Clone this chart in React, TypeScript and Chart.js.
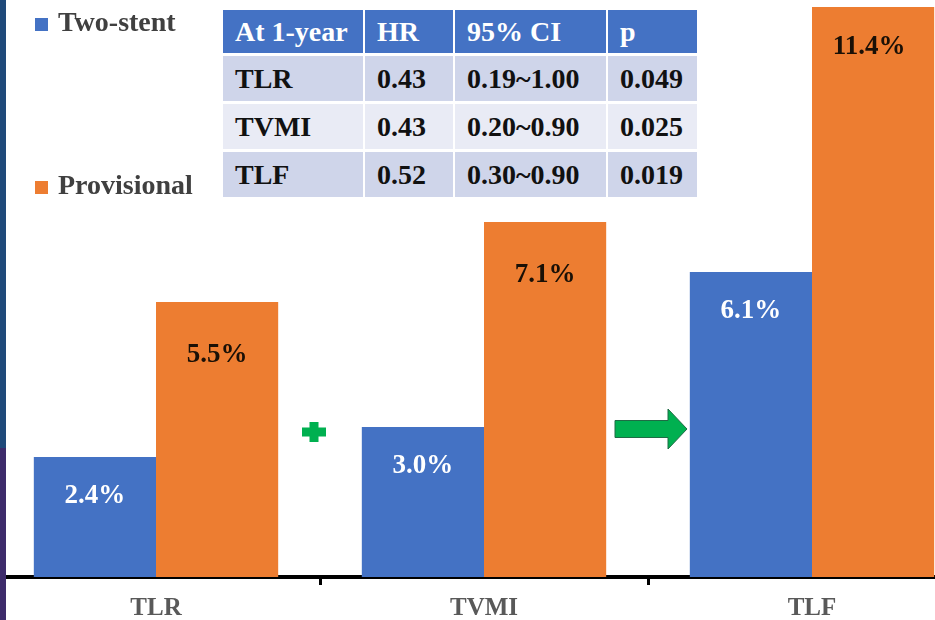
import React, { useEffect, useRef } from "react";
import { Chart, registerables } from "chart.js";
Chart.register(...registerables);

const categories = ["TLR", "TVMI", "TLF"];
const twoStent = [2.4, 3.0, 6.1];
const provisional = [5.5, 7.1, 11.4];
const seriesNames = ["Two-stent", "Provisional"];
const yMax = 11.5;

const tableHeader = ["At 1-year", "HR", "95% CI", "p"];
const tableEndpoints = ["TLR", "TVMI", "TLF"];
const tableHR = ["0.43", "0.43", "0.52"];
const tableCI = ["0.19~1.00", "0.20~0.90", "0.30~0.90"];
const tableP = ["0.049", "0.025", "0.019"];

const BLUE = "#4472c4";
const ORANGE = "#ed7d31";
const GREEN = "#00b050";
const SERIF = '"Liberation Serif", "Times New Roman", serif';
const SHIFT = 8; // canvas starts 8px left of the page

const valueLabels = {
  id: "valueLabels",
  afterDatasetsDraw(chart: any) {
    const ctx = chart.ctx;
    ctx.save();
    ctx.font = `bold 27px ${SERIF}`;
    ctx.textAlign = "center";
    ctx.textBaseline = "middle";
    chart.data.datasets.forEach((ds: any, di: number) => {
      const meta = chart.getDatasetMeta(di);
      meta.data.forEach((bar: any, i: number) => {
        const v = ds.data[i] as number;
        ctx.fillStyle = di === 0 ? "#ffffff" : "#1a1006";
        const off = di === 0 ? 39 : bar.y < 60 ? 40 : 53;
        const dx = di === 1 && bar.y < 60 ? -4 : 0;
        ctx.fillText(`${v.toFixed(1)}%`, bar.x + dx, bar.y + off);
      });
    });
    ctx.restore();
  },
};

const customLegend = {
  id: "customLegend",
  afterDraw(chart: any) {
    const ctx = chart.ctx;
    ctx.save();
    ctx.font = `bold 28px ${SERIF}`;
    ctx.textAlign = "left";
    ctx.textBaseline = "middle";
    const rows = [24, 187];
    chart.data.datasets.forEach((ds: any, di: number) => {
      const cy = rows[di];
      ctx.fillStyle = ds.backgroundColor;
      ctx.fillRect(35 + SHIFT, cy - 6, 13, 13);
      ctx.fillStyle = "#404040";
      ctx.fillText(ds.label, 58 + SHIFT, cy);
    });
    ctx.restore();
  },
};

const decorations = {
  id: "decorations",
  afterDraw(chart: any) {
    const ctx = chart.ctx;
    const xs = chart.scales.x;
    const ys = chart.scales.y;
    const b1 = (xs.getPixelForValue(0) + xs.getPixelForValue(1)) / 2;
    const b2 = (xs.getPixelForValue(1) + xs.getPixelForValue(2)) / 2;
    ctx.save();
    // plus sign
    const px = b1 - 6;
    const py = ys.getPixelForValue(2.9);
    ctx.fillStyle = GREEN;
    ctx.fillRect(px - 12, py - 4.5, 24, 9);
    ctx.fillRect(px - 4.5, py - 10, 9, 20);
    // arrow
    const ay = ys.getPixelForValue(2.96);
    const x0 = b2 - 33;
    const xh = b2 + 20;
    const x1 = b2 + 39;
    ctx.beginPath();
    ctx.moveTo(x0, ay - 8.5);
    ctx.lineTo(xh, ay - 8.5);
    ctx.lineTo(xh, ay - 20);
    ctx.lineTo(x1, ay);
    ctx.lineTo(xh, ay + 20);
    ctx.lineTo(xh, ay + 8.5);
    ctx.lineTo(x0, ay + 8.5);
    ctx.closePath();
    ctx.fillStyle = GREEN;
    ctx.fill();
    ctx.strokeStyle = "#1f6b45";
    ctx.lineWidth = 1;
    ctx.stroke();
    ctx.restore();
  },
};

export default function App() {
  const ref = useRef<HTMLCanvasElement | null>(null);

  useEffect(() => {
    if (!ref.current) return;
    const chart = new Chart(ref.current, {
      type: "bar",
      data: {
        labels: categories,
        datasets: [
          {
            label: seriesNames[0],
            data: twoStent,
            backgroundColor: BLUE,
            borderWidth: 0,
            categoryPercentage: 0.745,
            barPercentage: 1,
          },
          {
            label: seriesNames[1],
            data: provisional,
            backgroundColor: ORANGE,
            borderWidth: 0,
            categoryPercentage: 0.745,
            barPercentage: 1,
          },
        ],
      },
      options: {
        responsive: false,
        animation: false,
        devicePixelRatio: 1,
        layout: { padding: { top: 2, left: 0, right: 0, bottom: 0 } },
        plugins: {
          legend: { display: false },
          tooltip: { enabled: false },
          title: { display: false },
        },
        scales: {
          y: { display: false, min: 0, max: yMax },
          x: {
            display: true,
            offset: true,
            afterFit: (scale: any) => {
              scale.height = 43;
            },
            grid: {
              display: true,
              drawOnChartArea: false,
              drawTicks: true,
              tickLength: 8,
              color: "#000000",
              lineWidth: 3,
            },
            border: { display: true, color: "#000000", width: 4 },
            ticks: {
              color: "#595959",
              padding: 9,
              font: { family: SERIF, size: 25, weight: "bold" },
            },
          },
        },
      },
      plugins: [valueLabels, customLegend, decorations],
    });
    return () => chart.destroy();
  }, []);

  const cellBase: React.CSSProperties = {
    display: "flex",
    alignItems: "center",
    paddingLeft: 12,
    boxSizing: "border-box",
    fontFamily: SERIF,
    fontWeight: "bold",
    fontSize: 28,
    color: "#111111",
    whiteSpace: "nowrap",
  };
  const rowColors = ["#cfd5ea", "#e9ebf5", "#cfd5ea"];

  return (
    <div
      style={{
        position: "fixed",
        left: 0,
        top: 0,
        width: 935,
        height: 620,
        overflow: "hidden",
        background: "#ffffff",
      }}
    >
      <canvas
        ref={ref}
        width={984}
        height={620}
        style={{ position: "absolute", left: -SHIFT, top: 0, width: 984, height: 620, display: "block" }}
      />
      <div style={{ position: "absolute", left: 0, top: 0, width: 6, height: 448, background: "#1f4a7a" }} />
      <div style={{ position: "absolute", left: 0, top: 448, width: 6, height: 172, background: "#3d2b6b" }} />
      <div
        style={{
          position: "absolute",
          left: 223,
          top: 10,
          display: "grid",
          gridTemplateColumns: "140px 88px 151px 89px",
          gridTemplateRows: "43px 45px 45px 45px",
          columnGap: 2,
          rowGap: 3,
          background: "#ffffff",
        }}
      >
        {tableHeader.map((h, i) => (
          <div key={"h" + i} style={{ ...cellBase, background: BLUE, color: "#ffffff" }}>
            {h}
          </div>
        ))}
        {tableEndpoints.map((ep, r) => [
          <div key={"e" + r} style={{ ...cellBase, background: rowColors[r] }}>{ep}</div>,
          <div key={"hr" + r} style={{ ...cellBase, background: rowColors[r] }}>{tableHR[r]}</div>,
          <div key={"ci" + r} style={{ ...cellBase, background: rowColors[r] }}>{tableCI[r]}</div>,
          <div key={"p" + r} style={{ ...cellBase, background: rowColors[r] }}>{tableP[r]}</div>,
        ])}
      </div>
    </div>
  );
}
